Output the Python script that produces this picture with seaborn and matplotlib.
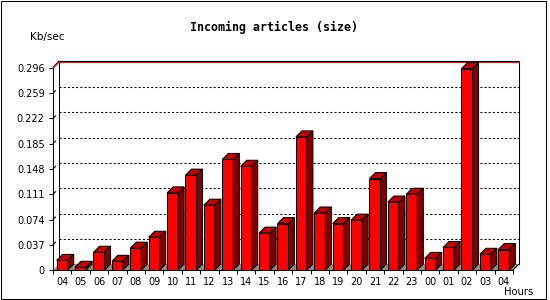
import matplotlib
matplotlib.use("Agg")
import matplotlib.pyplot as plt
from matplotlib.patches import Polygon, Rectangle
import seaborn as sns
import pandas as pd
import numpy as np

# ---- data ----
hours = ['04', '05', '06', '07', '08', '09', '10', '11', '12', '13', '14', '15',
         '16', '17', '18', '19', '20', '21', '22', '23', '00', '01', '02', '03', '04']
values = [0.014, 0.004, 0.026, 0.0127, 0.032, 0.048, 0.113, 0.139, 0.095, 0.162,
          0.152, 0.054, 0.068, 0.195, 0.0835, 0.068, 0.073, 0.134, 0.0996, 0.111,
          0.017, 0.033, 0.295, 0.023, 0.030]
y_ticks = [0, 0.037, 0.074, 0.111, 0.148, 0.185, 0.222, 0.259, 0.296]
y_tick_labels = ['0', '0.037', '0.074', '0.111', '0.148', '0.185', '0.222', '0.259', '0.296']
title = 'Incoming articles (size)'
y_label = 'Kb/sec'
x_label = 'Hours'

sns.set_style('white')
plt.rcParams['font.family'] = ['DejaVu Sans']

W, H = 550, 300
fig = plt.figure(figsize=(W / 100, H / 100), dpi=100)
ax = fig.add_axes([53 / W, 30 / H, 460 / W, 202 / H])
ax.set_facecolor('none')

df = pd.DataFrame({'pos': np.arange(len(hours)), 'value': values})
sns.barplot(data=df, x='pos', y='value', color='#ff0000', saturation=1,
            width=0.6, edgecolor='black', linewidth=0.75, ax=ax, zorder=4)

n = len(hours)
xl, xr = -0.5, n - 0.5
top = y_ticks[-1]
ax.set_xlim(xl, xr)
ax.set_ylim(0, top)

# depth offset (6 px) in data units
inv = ax.transData.inverted()
o0 = inv.transform((0, 0))
o1 = inv.transform((6, 6))
dx, dy = o1[0] - o0[0], o1[1] - o0[1]
px_y = (inv.transform((0, 1)) - o0)[1]

lw = 0.75
# floor
ax.add_patch(Polygon([(xl, 0), (xr, 0), (xr + dx, dy), (xl + dx, dy)],
                     closed=True, fc='#8c8c8c', ec='none', zorder=1, clip_on=False))
ax.plot([xr, xr + dx], [0, dy], color='black', lw=lw, zorder=2, clip_on=False)

# back wall
ax.plot([xl + dx, xl + dx], [dy, top + dy], color='black', lw=lw, zorder=2, clip_on=False)
ax.plot([xr + dx, xr + dx], [dy, top + dy], color='black', lw=lw, zorder=2, clip_on=False)
for t in y_ticks[1:-1]:
    ax.plot([xl + dx, xr + dx], [t + dy, t + dy], color='black', lw=lw,
            dashes=(2, 2), zorder=2, clip_on=False)
    ax.plot([xl, xl + 0.45 * dx], [t, t + 0.45 * dy], color='black', lw=lw,
            zorder=2, clip_on=False)
ax.plot([xl + dx, xr + dx], [top + dy + px_y, top + dy + px_y], color='black',
        lw=lw, zorder=2, clip_on=False)
ax.plot([xl + dx, xr + dx], [top + dy - 0.5 * px_y, top + dy - 0.5 * px_y],
        color='#ff0000', lw=lw, zorder=2, clip_on=False)
ax.plot([xl, xl + dx], [top + 0.5 * px_y, top + dy + px_y], color='black', lw=lw,
        zorder=2, clip_on=False)
ax.plot([xl, xl + dx], [top - 0.5 * px_y, top + dy - 0.5 * px_y], color='#ff0000',
        lw=lw, zorder=2, clip_on=False)

# 3D faces on bars
for p in list(ax.patches):
    if not isinstance(p, Rectangle):
        continue
    x0, w, h = p.get_x(), p.get_width(), p.get_height()
    if w > 0.9:
        continue
    ax.add_patch(Polygon([(x0, h), (x0 + w, h), (x0 + w + dx, h + dy), (x0 + dx, h + dy)],
                         closed=True, fc='#c40000', ec='black', lw=lw, zorder=5,
                         clip_on=False))
    ax.add_patch(Polygon([(x0 + w, 0), (x0 + w + dx, dy), (x0 + w + dx, h + dy), (x0 + w, h)],
                         closed=True, fc='#800000', ec='black', lw=lw, zorder=5,
                         clip_on=False))

# spines & ticks
for s in ['top', 'right']:
    ax.spines[s].set_visible(False)
for s in ['left', 'bottom']:
    ax.spines[s].set_color('black')
    ax.spines[s].set_linewidth(lw)
    ax.spines[s].set_zorder(6)
ax.grid(False)
ax.set_xlabel('')
ax.set_ylabel('')
ax.set_xticks(np.arange(n))
ax.set_xticklabels(hours)
ax.set_xticks(np.arange(n + 1) - 0.5, minor=True)
ax.tick_params(axis='x', which='major', length=0, pad=5, labelsize=7, labelcolor='black')
ax.tick_params(axis='x', which='minor', length=3, width=lw, color='black', direction='out',
               bottom=True)
ax.set_yticks(y_ticks)
ax.set_yticklabels(y_tick_labels)
ax.tick_params(axis='y', which='major', length=3, width=lw, color='black', direction='out',
               pad=3, labelsize=7, labelcolor='black', left=True)

# texts
fig.text(274 / W, 1 - 27 / H, title, family='DejaVu Sans Mono', weight='bold',
         size=8.4, ha='center', va='center', color='black')
fig.text(47.5 / W, 1 - 37 / H, y_label, size=7.5, ha='center', va='center', color='black')
fig.text(518.5 / W, 1 - 292 / H, x_label, size=7.2, ha='center', va='center', color='black')

# outer frame
fig.add_artist(Rectangle((0.5 / W, 1.5 / H), 545 / W, 298 / H, transform=fig.transFigure,
                         fill=False, ec='black', lw=lw))

fig.savefig('out.png', dpi=100)
